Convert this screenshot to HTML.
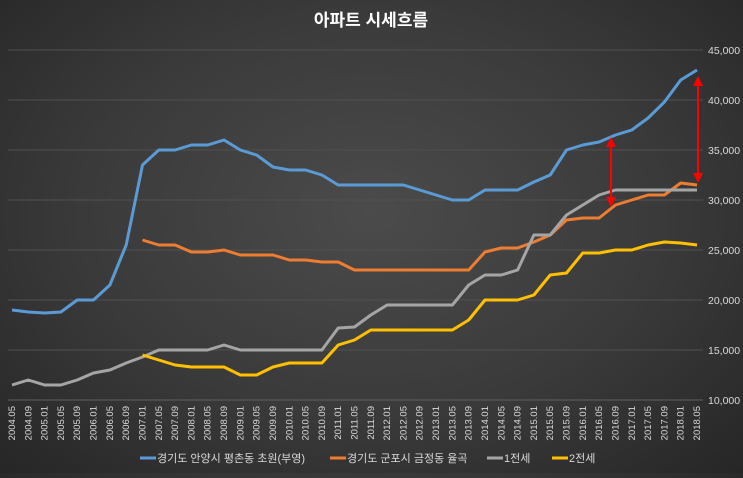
<!DOCTYPE html>
<html><head><meta charset="utf-8"><style>
html,body{margin:0;padding:0}
body{width:743px;height:473px;overflow:hidden;font-family:"Liberation Sans","Noto Sans CJK KR",sans-serif;
background:radial-gradient(ellipse at 50% 45%,#4b4b4b 0%,#3a3a3a 55%,#262626 100%);}
</style></head><body>
<svg id="chart" width="743" height="473" xmlns="http://www.w3.org/2000/svg"></svg>
<script>
const categories=[];for(let y=2004,m=5;y<2018||(y===2018&&m<=5);){categories.push(y+'.'+String(m).padStart(2,'0'));m+=4;if(m>12){m-=12;y++;}}
const blueVals=[19000,18800,18700,18800,20000,20000,21500,25500,33500,35000,35000,35500,35500,36000,35000,34500,33300,33000,33000,32500,31500,31500,31500,31500,31500,31000,30500,30000,30000,31000,31000,31000,31800,32500,35000,35500,35800,36500,37000,38200,39800,42000,43000];
const orangeVals=[null,null,null,null,null,null,null,null,26000,25500,25500,24800,24800,25000,24500,24500,24500,24000,24000,23800,23800,23000,23000,23000,23000,23000,23000,23000,23000,24800,25200,25200,25800,26500,28000,28200,28200,29500,30000,30500,30500,31700,31500];
const grayVals=[11500,12000,11500,11500,12000,12700,13000,13700,14300,15000,15000,15000,15000,15500,15000,15000,15000,15000,15000,15000,17200,17300,18500,19500,19500,19500,19500,19500,21500,22500,22500,23000,26500,26500,28500,29500,30500,31000,31000,31000,31000,31000,31000];
const yellowVals=[null,null,null,null,null,null,null,null,14500,14000,13500,13300,13300,13300,12500,12500,13300,13700,13700,13700,15500,16000,17000,17000,17000,17000,17000,17000,18000,20000,20000,20000,20500,22500,22700,24700,24700,25000,25000,25500,25800,25700,25500];
const yTicks=[10000,15000,20000,25000,30000,35000,40000,45000];
const seriesNames=['경기도 안양시 평촌동 초원(부영)','경기도 군포시 금정동 율곡','1전세','2전세'];
const seriesColors=['#5b9bd5','#ed7d31','#a5a5a5','#ffc000'];

const NS='http://www.w3.org/2000/svg';const svg=document.getElementById('chart');
const X0=12,X1=697,Y0=400,YS=0.01;
const xS=i=>X0+(X1-X0)*i/(categories.length-1);
const yS=v=>Y0-(v-10000)*YS;
function mk(t,a,p){const e=document.createElementNS(NS,t);for(const k in a)e.setAttribute(k,a[k]);(p||svg).appendChild(e);return e;}
const title=mk('text',{x:371,y:26,fill:'#fff','font-size':17,'font-weight':'bold','text-anchor':'middle'});title.textContent='아파트 시세흐름';


yTicks.forEach(v=>{
 const g=mk('line',{x1:8,x2:703,y1:yS(v),y2:yS(v),stroke:v===10000?'#606060':'#505050','stroke-width':1});
 
 
 const t=mk('text',{x:708,y:yS(v)+4,fill:'#d9d9d9','font-size':10.5});t.textContent=v.toLocaleString('en-US');
 
 
});
categories.forEach((c,i)=>{
 const t=mk('text',{transform:`translate(${xS(i)+3},${406}) rotate(-90)`,fill:'#d9d9d9','font-size':9.5,'text-anchor':'end'});t.textContent=c;
 
 
});
[blueVals,orangeVals,grayVals,yellowVals].forEach((vals,s)=>{
 let d='';let pen=false;
 vals.forEach((v,i)=>{if(v==null){pen=false;return;}d+=(pen?'L':'M')+xS(i).toFixed(1)+','+yS(v).toFixed(1);pen=true;});
 const p=mk('path',{d,fill:'none',stroke:seriesColors[s],'stroke-width':3,'stroke-linejoin':'round'});
 
 
});
const defs=mk('defs',{});
const mkr=mk('marker',{id:'ah',markerWidth:5,markerHeight:5,refX:2.5,refY:2.5,orient:'auto-start-reverse'},defs);
mk('path',{d:'M0,0L5,2.5L0,5Z',fill:'#ff0000'},mkr);
[[611,137,207],[698,76,183]].forEach(a=>{
 const l=mk('line',{x1:a[0],x2:a[0],y1:a[1]+5,y2:a[2]-5,stroke:'#ff0000','stroke-width':2,'marker-start':'url(#ah)','marker-end':'url(#ah)'});
 
 
});
const lx=[140,330,487,552];
seriesNames.forEach((n,s)=>{
 const g=mk('g',{});
 
 
 mk('line',{x1:lx[s],x2:lx[s]+16,y1:458,y2:458,stroke:seriesColors[s],'stroke-width':3},g);
 const t=mk('text',{x:lx[s]+17,y:462,fill:'#d9d9d9','font-size':11},g);t.textContent=n;
});
</script>
</body></html>
